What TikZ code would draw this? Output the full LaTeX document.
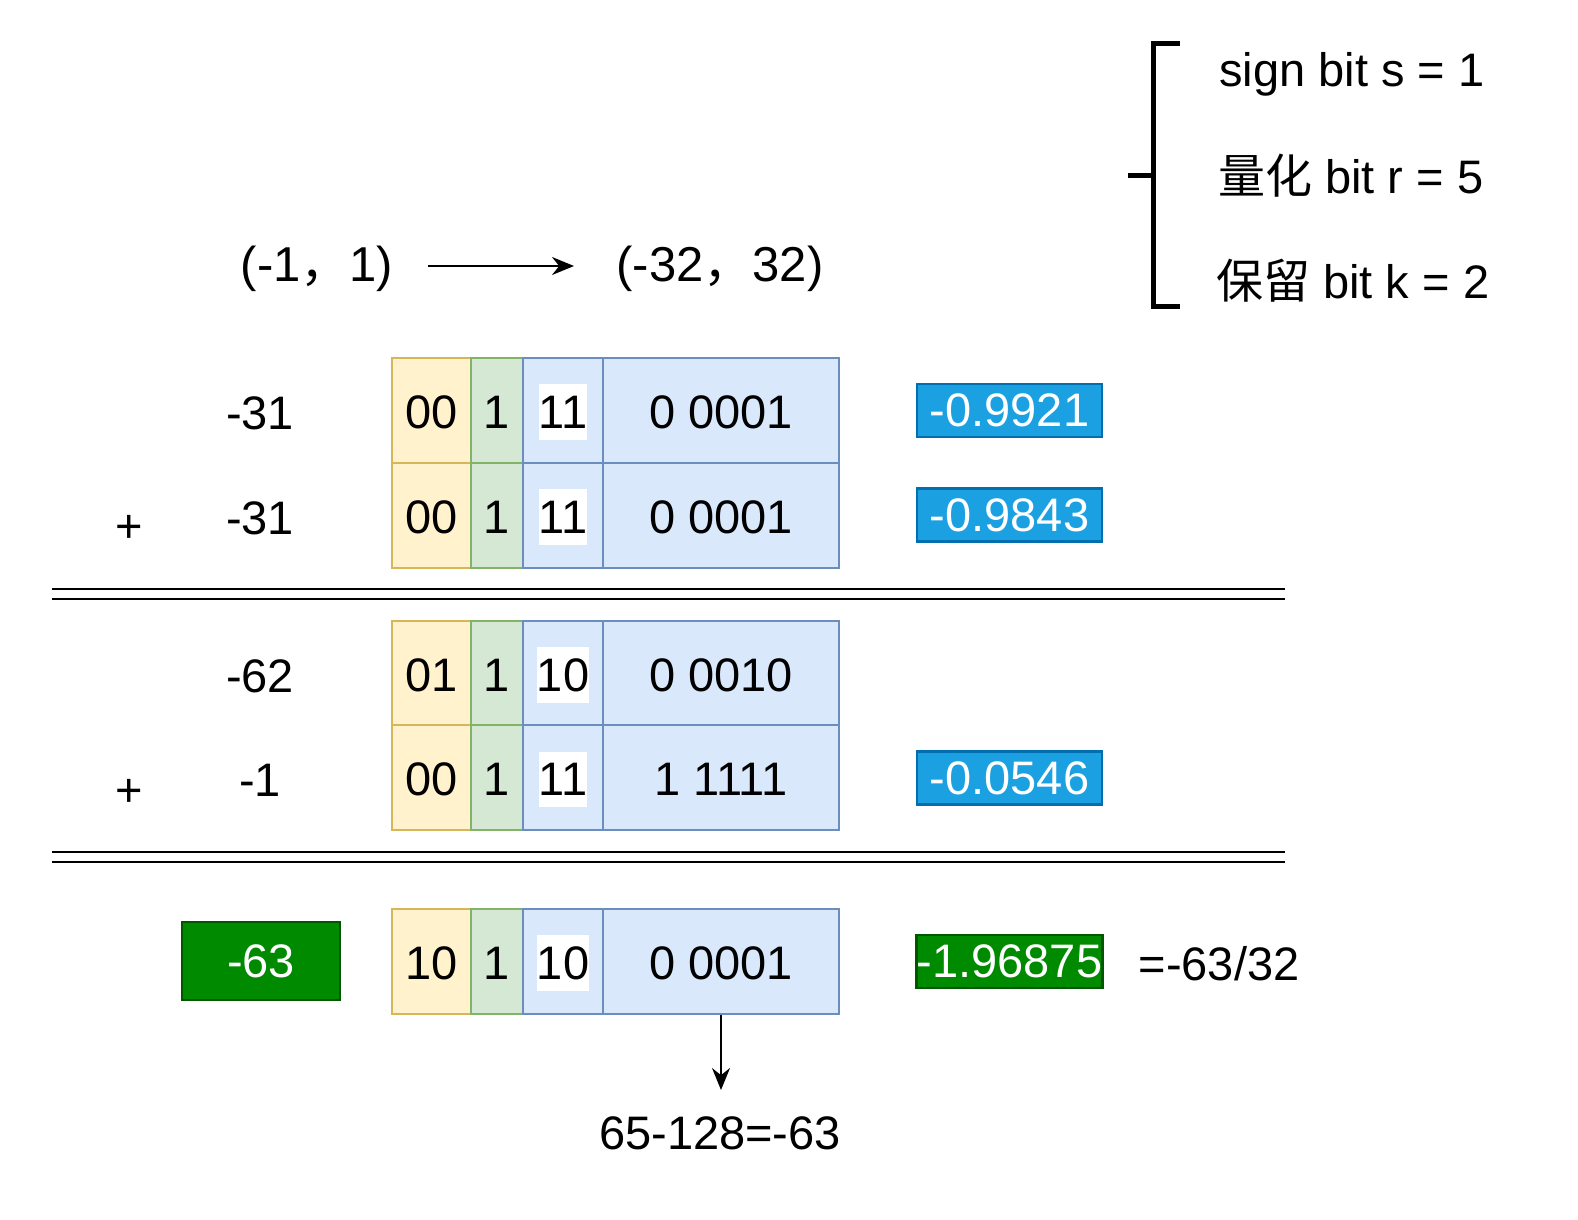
\documentclass[tikz,border=0pt]{standalone}
\usepackage{fontspec}
\setmainfont{Liberation Sans}
\newfontfamily\cjk{Noto Sans CJK SC}
\usetikzlibrary{arrows.meta}
\definecolor{cY}{HTML}{FFF2CC}
\definecolor{cYd}{HTML}{D6B656}
\definecolor{cG}{HTML}{D5E8D4}
\definecolor{cGd}{HTML}{82B366}
\definecolor{cB}{HTML}{DAE8FC}
\definecolor{cBd}{HTML}{6C8EBF}
\definecolor{vB}{HTML}{1BA1E2}
\definecolor{vBd}{HTML}{006EAF}
\definecolor{vG}{HTML}{008A00}
\definecolor{vGd}{HTML}{005700}
\newcommand{\bitrow}[6]{%
  \node[cellY] (#1a) at (431.5,#2) {};
  \node[cellG] (#1b) at (497,#2) {};
  \node[cellB] (#1c) at (563,#2) {};
  \node[cellL] (#1d) at (721,#2) {};
  \node[celltxt] (#1ta) at (#1a.center) {#3};
  \node[celltxt] (#1tb) at (#1b.center) {#4};
  \node[celltxt, whitebg] (#1tc) at (#1c.center) {#5};
  \node[celltxt] (#1td) at (#1d.center) {#6};}
\begin{document}
\begin{tikzpicture}[x=1pt,y=-1pt,
  every node/.style={font=\fontsize{47}{56}\selectfont, inner sep=0pt},
  cellbase/.style={line width=2pt, minimum height=105pt},
  cellY/.style={cellbase, draw=cYd, fill=cY, minimum width=79pt},
  cellG/.style={cellbase, draw=cGd, fill=cG, minimum width=52pt},
  cellB/.style={cellbase, draw=cBd, fill=cB, minimum width=80pt},
  cellL/.style={cellbase, draw=cBd, fill=cB, minimum width=236pt},
  celltxt/.style={yshift=-2pt},
  whitebg/.style={fill=white, inner xsep=0pt, inner ysep=11.5pt},
  valB/.style={draw=vBd, fill=vB, text=white, line width=2.5pt, minimum width=185pt, minimum height=53pt},
  valG/.style={draw=vGd, fill=vG, text=white, line width=2.5pt},
  arr/.style={line width=2pt, -{Stealth[length=22pt,width=18pt]}},
  rng/.style={font=\fontsize{49}{58}\selectfont},
  dbl/.style={line width=2.5pt}]
\useasboundingbox (0,0) rectangle (1578,1219);

% legend bracket
\draw[line width=5pt] (1180,43) -- (1153,43) -- (1153,306) -- (1180,306);
\draw[line width=5pt] (1128,175) -- (1153,175);
\node[anchor=base west] (s1) at (1219,86) {sign bit s = 1};
\node[anchor=base west] (s2) at (1218,193) {{\cjk 量化} bit r = 5};
\node[anchor=base west] (s3) at (1216,298) {{\cjk 保留} bit k = 2};

% range mapping
\node[rng] (rA) at (317,269) {(-1{\cjk ，}1)};
\node[rng] (rB) at (720,269) {(-32{\cjk ，}32)};
\coordinate (aS) at (428,266);
\coordinate (aE) at (574,266);
\draw[arr] (aS) -- (aE);

% rows
\bitrow{r1}{410}{00}{1}{11}{0 0001}
\bitrow{r2}{515}{00}{1}{11}{0 0001}
\bitrow{r3}{673}{01}{1}{10}{0 0010}
\bitrow{r4}{777.5}{00}{1}{11}{1 1111}
\bitrow{r5}{961}{10}{1}{10}{0 0001}

% left labels
\node (l1) at (260,413) {-31};
\node (l2) at (260,518) {-31};
\node (p1) at (129,529) {+};
\node (l3) at (260,676) {-62};
\node (l4) at (260,780) {-1};
\node (p2) at (129,793) {+};
\node[valG, minimum width=158pt, minimum height=78pt] (l5) at (261,961) {-63};

% separators
\draw[dbl] (52,589) -- (1285,589);
\draw[dbl] (52,599) -- (1285,599);
\draw[dbl] (52,852) -- (1285,852);
\draw[dbl] (52,862) -- (1285,862);

% values
\node[valB] (v1) at (1009.5,410.5) {-0.9921};
\node[valB] (v2) at (1009.5,515) {-0.9843};
\node[valB] (v4) at (1009.5,778) {-0.0546};
\node[valG, minimum width=185pt, minimum height=53pt] (v5) at (1009.5,961.5) {-1.96875};
\node (frac) at (1219,964) {=-63/32};

% result arrow
\coordinate (dn) at (721,1090);
\draw[arr] (r5d.south) -- (dn);
\node (res) at (720,1133) {65-128=-63};
\end{tikzpicture}
\end{document}
